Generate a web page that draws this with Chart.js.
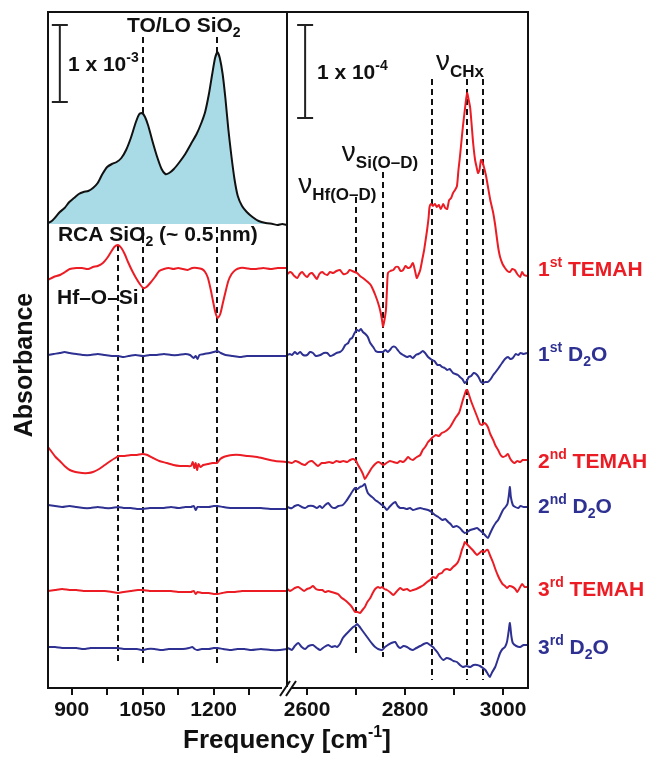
<!DOCTYPE html>
<html>
<head>
<meta charset="utf-8">
<script src="https://cdn.jsdelivr.net/npm/chart.js@4.4.1/dist/chart.umd.min.js"></script>
<style>
  body { margin: 0; background: #fff; }
  #wrap { position: relative; width: 655px; height: 757px; }
  canvas { position: absolute; left: 0; top: 0; }
</style>
</head>
<body>
<div id="wrap">
  <canvas id="leftChart" width="655" height="757"></canvas>
  <canvas id="rightChart" width="655" height="757"></canvas>
</div>
<script>
/* globals Chart:false */
const RED = '#ec1c24';
const BLUE = '#2e3192';
const FONT = '"Liberation Sans", Arial, Helvetica, sans-serif';

// stacked spectra, absorbance in arbitrary units; each trace = [frequency, deviation from its baseline]
const stepOffsets = [418, 333, 226, 181, 98, 40];
const stepColors = [RED, BLUE, RED, BLUE, RED, BLUE];
const refOffset = 464;

// low-frequency region (cm-1)
const refSiO2 = [[850,1],[858,3],[866,7],[875,12],[885,16],[895,22],[905,26],[915,30],[925,32],[935,33],[945,36],[955,41],[965,50],[975,57],[985,60],[995,62],[1005,66],[1015,74],[1025,86],[1035,101],[1043,110],[1049,111],[1055,107],[1062,98],[1070,84],[1080,68],[1090,55],[1098,50],[1106,51],[1116,55],[1128,62],[1140,70],[1152,80],[1164,90],[1174,101],[1182,112],[1190,130],[1197,150],[1203,166],[1208,172],[1213,166],[1219,150],[1225,125],[1231,95],[1237,70],[1244,45],[1251,28],[1260,18],[1270,12],[1282,7],[1295,3],[1310,1],[1325,0],[1335,-1],[1345,0],[1355,-1]];
const low1T = [[850,-10],[862,-7],[875,-5],[886,-2],[896,1],[910,2],[922,2],[935,1],[945,3],[955,4],[966,7],[975,12],[983,18],[990,23],[998,25],[1005,22],[1012,16],[1020,7],[1028,-1],[1036,-8],[1044,-14],[1051,-18],[1058,-17],[1066,-13],[1076,-7],[1085,-1],[1095,1],[1105,2],[1115,1],[1125,2],[1135,1],[1145,0],[1155,2],[1165,2],[1175,1],[1182,-2],[1188,-8],[1194,-20],[1199,-32],[1204,-43],[1209,-48],[1214,-44],[1219,-34],[1225,-22],[1231,-11],[1238,-4],[1246,0],[1256,2],[1266,2],[1278,1],[1290,1],[1305,2],[1320,1],[1335,2],[1355,2]];
const low1D = [[850,0],[862,1],[875,2],[885,3],[896,2],[910,1],[925,0],[940,0],[955,1],[970,0],[985,-1],[998,-1],[1010,-2],[1020,-1],[1035,0],[1050,-1],[1065,0],[1080,0],[1095,1],[1110,0],[1125,0],[1140,1],[1150,0],[1158,-3],[1162,-1],[1166,-4],[1170,0],[1180,1],[1192,2],[1200,3],[1208,4],[1215,2],[1225,0],[1240,-1],[1255,-2],[1270,-1],[1290,-1],[1310,-1],[1330,-1],[1355,-1]];
const low2T = [[850,15],[858,10],[866,5],[875,1],[885,-4],[896,-8],[908,-10],[922,-11],[935,-11],[945,-10],[958,-7],[970,-3],[982,1],[992,4],[1000,6],[1012,6],[1025,7],[1038,7],[1049,8],[1060,7],[1072,4],[1085,1],[1101,-1],[1115,-3],[1129,-4],[1142,-4],[1152,-4],[1156,0],[1159,-6],[1162,-1],[1165,-8],[1168,-2],[1172,-5],[1178,-3],[1188,-2],[1198,-1],[1207,-1],[1214,3],[1221,5],[1228,6],[1240,7],[1256,7],[1272,6],[1292,5],[1310,3],[1330,1],[1355,0]];
const low2D = [[850,2],[865,1],[880,0],[895,1],[910,0],[925,-1],[940,-1],[955,0],[970,-1],[985,-1],[998,0],[1010,-1],[1025,-1],[1038,-2],[1050,-2],[1065,-1],[1080,-1],[1095,-1],[1110,0],[1125,-1],[1140,0],[1152,0],[1158,1],[1162,-3],[1166,0],[1175,0],[1190,0],[1200,1],[1208,1],[1220,0],[1235,-1],[1250,-1],[1265,-1],[1280,-1],[1300,-1],[1320,-2],[1340,-2],[1355,-2]];
const low3T = [[850,-1],[865,0],[880,1],[895,0],[910,0],[925,-1],[940,-1],[955,-1],[970,-1],[985,-2],[998,-3],[1010,-2],[1025,-1],[1040,0],[1050,0],[1065,-1],[1080,-1],[1095,-1],[1110,-1],[1125,-2],[1140,-2],[1152,-2],[1158,-1],[1162,-4],[1166,-2],[1175,-3],[1190,-3],[1200,-4],[1208,-4],[1218,-3],[1230,-2],[1245,-2],[1260,-1],[1280,-1],[1300,-1],[1320,-1],[1340,-1],[1355,-1]];
const low3D = [[850,1],[865,1],[880,0],[895,0],[910,0],[925,-1],[940,0],[955,0],[970,0],[985,0],[998,0],[1010,-1],[1025,-1],[1038,-1],[1050,-2],[1060,-1],[1075,-1],[1090,-2],[1105,-1],[1120,-1],[1135,-1],[1148,0],[1155,1],[1160,-1],[1165,-2],[1175,-1],[1190,-1],[1200,0],[1208,0],[1220,-1],[1235,-2],[1250,-1],[1265,-1],[1280,-2],[1300,-1],[1320,-2],[1340,-2],[1355,-1]];

// high-frequency region (cm-1)
const high1T = [[2560,-4],[2565,-2],[2569,-3],[2574,-6],[2580,-8],[2585,-4],[2590,-2],[2595,-5],[2600,-7],[2605,-4],[2610,-3],[2615,-6],[2620,-9],[2625,-4],[2631,-2],[2636,-4],[2641,-5],[2647,-2],[2653,-3],[2660,-1],[2667,0],[2674,-4],[2682,-3],[2687,0],[2692,-1],[2697,-2],[2702,-3],[2708,-6],[2714,-8],[2719,-10],[2724,-12],[2730,-15],[2735,-20],[2740,-26],[2745,-33],[2749,-40],[2753,-50],[2755,-57],[2758,-50],[2761,-40],[2763,-20],[2765,-3],[2770,-1],[2776,0],[2781,3],[2786,3],[2791,-1],[2796,0],[2801,4],[2806,2],[2811,3],[2816,7],[2820,0],[2824,-8],[2828,-4],[2831,0],[2835,10],[2839,20],[2842,30],[2845,40],[2848,52],[2850,63],[2853,66],[2857,64],[2861,66],[2865,63],[2869,65],[2873,61],[2878,66],[2882,62],[2886,61],[2890,70],[2894,72],[2898,77],[2902,80],[2906,84],[2909,100],[2912,113],[2915,128],[2918,143],[2922,160],[2925,172],[2927,177],[2930,170],[2933,162],[2936,145],[2939,127],[2943,110],[2946,103],[2949,97],[2952,100],[2955,110],[2958,108],[2961,103],[2965,95],[2969,84],[2974,70],[2980,57],[2984,45],[2988,30],[2991,20],[2994,13],[2999,6],[3004,2],[3009,-1],[3014,-2],[3019,1],[3024,0],[3029,-4],[3035,-7],[3039,-2],[3043,-5],[3049,-6]];
const high1D = [[2560,0],[2565,1],[2569,0],[2575,3],[2580,1],[2586,3],[2592,0],[2600,0],[2606,3],[2612,2],[2618,-1],[2627,0],[2634,2],[2641,2],[2647,-1],[2653,0],[2660,2],[2667,3],[2672,5],[2678,10],[2684,12],[2688,16],[2692,17],[2697,22],[2702,25],[2706,24],[2710,26],[2714,23],[2719,21],[2724,18],[2729,12],[2735,8],[2740,4],[2745,3],[2750,3],[2755,3],[2760,5],[2765,3],[2769,5],[2774,8],[2780,8],[2785,5],[2790,2],[2796,0],[2804,-2],[2810,-1],[2816,-3],[2822,0],[2827,1],[2831,2],[2836,4],[2841,2],[2847,-2],[2855,-5],[2860,-6],[2866,-10],[2871,-10],[2876,-12],[2881,-13],[2886,-15],[2891,-14],[2898,-18],[2903,-19],[2908,-20],[2912,-22],[2917,-24],[2922,-28],[2926,-26],[2930,-22],[2935,-21],[2940,-18],[2945,-19],[2950,-22],[2955,-27],[2959,-28],[2964,-27],[2969,-27],[2975,-24],[2980,-20],[2985,-17],[2991,-13],[2998,-8],[3004,-4],[3010,-2],[3015,-4],[3020,-3],[3026,1],[3031,0],[3036,2],[3042,1],[3049,2]];
const high2T = [[2560,0],[2569,-1],[2576,1],[2582,0],[2589,-2],[2596,-3],[2603,0],[2610,1],[2617,-2],[2622,-4],[2630,-1],[2637,-1],[2645,0],[2653,-1],[2660,1],[2667,0],[2674,1],[2682,0],[2688,2],[2694,3],[2700,1],[2704,-3],[2710,-8],[2714,-12],[2718,-17],[2722,-14],[2727,-10],[2732,-6],[2739,-2],[2745,0],[2750,-1],[2755,-3],[2762,-1],[2769,1],[2776,0],[2784,-1],[2790,1],[2796,0],[2801,2],[2806,5],[2811,3],[2816,2],[2824,5],[2831,7],[2836,12],[2841,15],[2847,20],[2851,22],[2857,25],[2863,27],[2869,26],[2875,29],[2880,30],[2886,32],[2892,35],[2898,40],[2904,45],[2910,49],[2914,55],[2918,62],[2922,68],[2925,72],[2927,72],[2930,68],[2934,62],[2937,58],[2941,53],[2945,48],[2949,43],[2953,38],[2957,37],[2961,39],[2965,38],[2969,35],[2974,28],[2980,22],[2985,16],[2990,12],[2995,7],[3000,5],[3005,6],[3010,8],[3015,3],[3020,0],[3024,-1],[3029,1],[3035,0],[3040,2],[3049,2]];
const high2D = [[2560,0],[2565,-1],[2569,-1],[2575,1],[2582,2],[2589,0],[2596,-1],[2603,1],[2612,1],[2620,-1],[2626,1],[2631,-1],[2637,2],[2643,4],[2650,0],[2657,-1],[2664,1],[2673,2],[2680,6],[2688,12],[2693,16],[2698,19],[2703,18],[2708,20],[2713,21],[2718,23],[2721,18],[2724,14],[2730,11],[2735,9],[2739,7],[2745,5],[2750,3],[2753,2],[2758,0],[2763,-3],[2768,0],[2774,3],[2780,5],[2785,1],[2790,-1],[2797,-1],[2804,-2],[2810,-1],[2816,-3],[2823,-2],[2831,-1],[2838,-2],[2847,-3],[2854,-5],[2861,-8],[2868,-10],[2876,-13],[2882,-12],[2888,-15],[2893,-17],[2898,-20],[2905,-19],[2912,-21],[2917,-24],[2922,-26],[2927,-25],[2933,-23],[2940,-22],[2947,-21],[2952,-23],[2957,-25],[2963,-28],[2969,-31],[2974,-26],[2980,-20],[2985,-16],[2990,-13],[2995,-8],[3000,-3],[3005,0],[3009,3],[3012,12],[3014,20],[3016,10],[3020,2],[3025,0],[3031,-1],[3036,1],[3042,0],[3049,0]];
const high3T = [[2560,1],[2565,-1],[2569,0],[2575,2],[2582,3],[2588,1],[2594,-1],[2600,1],[2606,2],[2612,4],[2618,1],[2625,0],[2631,0],[2637,-2],[2643,-1],[2650,-2],[2657,-3],[2663,-4],[2671,-8],[2677,-10],[2684,-13],[2690,-16],[2694,-19],[2698,-22],[2703,-22],[2708,-23],[2713,-20],[2718,-17],[2723,-12],[2729,-8],[2734,-3],[2739,1],[2745,3],[2749,2],[2753,3],[2758,1],[2763,0],[2769,-2],[2776,-5],[2782,-2],[2790,2],[2796,0],[2804,1],[2810,-1],[2816,0],[2823,1],[2831,3],[2838,5],[2845,8],[2851,10],[2857,13],[2863,12],[2869,16],[2875,17],[2880,20],[2886,21],[2892,20],[2898,23],[2903,25],[2908,28],[2912,33],[2916,40],[2920,45],[2922,48],[2926,46],[2930,44],[2934,42],[2938,40],[2943,37],[2947,35],[2952,37],[2957,39],[2962,38],[2966,40],[2969,40],[2974,34],[2980,27],[2985,20],[2990,14],[2994,10],[2999,6],[3004,4],[3008,2],[3013,4],[3020,3],[3025,1],[3029,-2],[3034,2],[3039,6],[3044,3],[3049,3]];
const high3D = [[2560,0],[2565,-1],[2569,-2],[2575,2],[2582,5],[2589,1],[2596,-1],[2603,2],[2612,3],[2620,0],[2627,-2],[2635,1],[2643,3],[2650,1],[2657,2],[2661,1],[2667,4],[2673,10],[2680,14],[2688,18],[2694,21],[2698,22],[2702,24],[2706,22],[2712,18],[2718,14],[2724,10],[2730,6],[2735,3],[2739,1],[2745,-1],[2753,-2],[2759,1],[2765,3],[2772,5],[2780,6],[2785,2],[2790,0],[2797,2],[2804,1],[2810,-1],[2816,-2],[2823,0],[2831,2],[2838,4],[2845,5],[2851,3],[2857,1],[2862,-2],[2867,-5],[2872,-9],[2878,-12],[2885,-10],[2892,-11],[2899,-13],[2906,-14],[2912,-17],[2918,-19],[2925,-18],[2933,-19],[2940,-17],[2947,-17],[2953,-18],[2959,-20],[2964,-22],[2969,-26],[2973,-29],[2978,-24],[2984,-19],[2989,-12],[2994,-5],[2999,-1],[3004,1],[3008,6],[3011,15],[3014,25],[3017,12],[3020,5],[3027,2],[3035,1],[3042,3],[3049,3]];

const lowTicks = [900, 975, 1050, 1125, 1200, 1275];
const lowLabels = [900, 1050, 1200];
const highTicks = [2600, 2700, 2800, 2900, 3000];
const highLabels = [2600, 2800, 3000];

// marker lines: frequency, top and bottom (a.u.)
const lowMarkers = [[998, 443, 25], [1050, 651, 25], [1208, 651, 25]];
const highMarkers = [[2700, 491, 31], [2755, 516, 31], [2855, 609, 8], [2927, 609, 8], [2960, 609, 8]];

const stepLabels = [
  [{t: '1'}, {t: 'st', s: 'sup'}, {t: ' TEMAH'}],
  [{t: '1'}, {t: 'st', s: 'sup'}, {t: ' D'}, {t: '2', s: 'sub'}, {t: 'O'}],
  [{t: '2'}, {t: 'nd', s: 'sup'}, {t: ' TEMAH'}],
  [{t: '2'}, {t: 'nd', s: 'sup'}, {t: ' D'}, {t: '2', s: 'sub'}, {t: 'O'}],
  [{t: '3'}, {t: 'rd', s: 'sup'}, {t: ' TEMAH'}],
  [{t: '3'}, {t: 'rd', s: 'sup'}, {t: ' D'}, {t: '2', s: 'sub'}, {t: 'O'}]
];

function runFont(r, size) {
  const sz = r.z || (r.s ? Math.round(size * 0.66) : size);
  return (r.w || 'bold') + ' ' + sz + 'px ' + FONT;
}

function drawRuns(ctx, x, y, runs, size, color, align) {
  ctx.save();
  ctx.textBaseline = 'middle';
  ctx.textAlign = 'left';
  ctx.fillStyle = color;
  let total = 0;
  runs.forEach(r => { ctx.font = runFont(r, size); total += ctx.measureText(r.t).width; });
  let cx = align === 'center' ? x - total / 2 : x;
  runs.forEach(r => {
    ctx.font = runFont(r, size);
    let dy = r.dy !== undefined ? r.dy : (r.s === 'sub' ? size * 0.35 : r.s === 'sup' ? -size * 0.35 : 0);
    ctx.fillText(r.t, cx, y + dy);
    cx += ctx.measureText(r.t).width;
  });
  ctx.restore();
}

function toPoints(arr, off) {
  return arr.map(p => ({x: p[0], y: off + p[1]}));
}

function traceSet(arr, i) {
  return {data: toPoints(arr, stepOffsets[i]), borderColor: stepColors[i], borderWidth: 2, fill: false};
}

function panelPlugin(cfg) {
  return {
    id: 'panel',
    beforeDatasetsDraw(chart) {
      const {ctx, scales: {x, y}} = chart;
      ctx.save();
      ctx.strokeStyle = '#111';
      ctx.lineWidth = 2;
      ctx.setLineDash([6, 4]);
      cfg.markers.forEach(m => {
        const px = Math.round(x.getPixelForValue(m[0]));
        ctx.beginPath();
        ctx.moveTo(px, y.getPixelForValue(m[1]));
        ctx.lineTo(px, y.getPixelForValue(m[2]));
        ctx.stroke();
      });
      ctx.restore();
    },
    afterDraw(chart) {
      const {ctx, chartArea: a, scales: {x, y}} = chart;
      ctx.save();
      ctx.strokeStyle = '#111';
      ctx.lineWidth = 2;
      ctx.strokeRect(a.left, a.top, a.right - a.left, a.bottom - a.top);
      // scale bar
      const bx = x.getPixelForValue(cfg.bar[0]);
      const b1 = y.getPixelForValue(cfg.bar[1]), b2 = y.getPixelForValue(cfg.bar[2]);
      ctx.strokeStyle = '#222';
      ctx.beginPath();
      ctx.moveTo(bx, b1); ctx.lineTo(bx, b2);
      ctx.moveTo(bx - 8, b1); ctx.lineTo(bx + 8, b1);
      ctx.moveTo(bx - 8, b2); ctx.lineTo(bx + 8, b2);
      ctx.stroke();
      ctx.restore();
      cfg.notes.forEach(n => drawRuns(ctx, x.getPixelForValue(n.f), y.getPixelForValue(n.v), n.runs, 21, '#111', n.align));
      if (cfg.extra) cfg.extra(chart);
    }
  };
}

function xScale(min, max, ticks, labels) {
  return {
    type: 'linear', min: min, max: max,
    afterBuildTicks: s => { s.ticks = ticks.map(v => ({value: v})); },
    afterFit: s => { s.height = 69; },
    grid: {drawOnChartArea: false, tickLength: 7, color: '#111', lineWidth: 2},
    border: {display: false},
    ticks: {
      autoSkip: false, maxRotation: 0, padding: 3, color: '#111',
      font: {family: FONT, size: 21, weight: 'bold'},
      callback: v => labels.includes(v) ? String(v) : ''
    }
  };
}

function baseOptions(padL, padR, xs) {
  return {
    responsive: false, animation: false, devicePixelRatio: 1,
    layout: {padding: {left: padL, right: padR, top: 12, bottom: 0}},
    plugins: {legend: {display: false}, tooltip: {enabled: false}},
    elements: {point: {radius: 0}, line: {tension: 0.2}},
    scales: {x: xs, y: {display: false, min: 0, max: 676}}
  };
}

// left panel: Si-O region
new Chart(document.getElementById('leftChart'), {
  type: 'line',
  data: {
    datasets: [
      {data: toPoints(refSiO2, refOffset), borderColor: '#111', borderWidth: 2, backgroundColor: '#a9dbe6', fill: {value: refOffset}},
      traceSet(low1T, 0), traceSet(low1D, 1), traceSet(low2T, 2),
      traceSet(low2D, 3), traceSet(low3T, 4), traceSet(low3D, 5)
    ]
  },
  options: baseOptions(48, 368, xScale(850, 1355, lowTicks, lowLabels)),
  plugins: [panelPlugin({
    markers: lowMarkers,
    bar: [875, 663, 586],
    notes: [
      {f: 1137, v: 662, align: 'center', runs: [{t: 'TO/LO SiO'}, {t: '2', s: 'sub'}]},
      {f: 892, v: 623, runs: [{t: '1 x 10'}, {t: '-3', s: 'sup'}]},
      {f: 871, v: 453, runs: [{t: 'RCA SiO'}, {t: '2', s: 'sub'}, {t: ' (~ 0.5 nm)'}]},
      {f: 869, v: 390, runs: [{t: 'Hf\u2013O\u2013Si'}]}
    ],
    extra(chart) {
      const ctx = chart.ctx;
      ctx.save();
      ctx.translate(25, 365);
      ctx.rotate(-Math.PI / 2);
      drawRuns(ctx, 0, 0, [{t: 'Absorbance'}], 25, '#111', 'center');
      ctx.restore();
      drawRuns(ctx, 287, 741, [{t: 'Frequency [cm'}, {t: '-1', s: 'sup', z: 16, dy: -8}, {t: ']'}], 26, '#111', 'center');
    }
  })]
});

// right panel: O-D and C-H region
new Chart(document.getElementById('rightChart'), {
  type: 'line',
  data: {
    datasets: [
      traceSet(high1T, 0), traceSet(high1D, 1), traceSet(high2T, 2),
      traceSet(high2D, 3), traceSet(high3T, 4), traceSet(high3D, 5)
    ]
  },
  options: baseOptions(287, 127, xScale(2559, 3051, highTicks, highLabels)),
  plugins: [panelPlugin({
    markers: highMarkers,
    bar: [2596, 663, 570],
    notes: [
      {f: 2620, v: 615, runs: [{t: '1 x 10'}, {t: '-4', s: 'sup'}]},
      {f: 2863, v: 626, runs: [{t: '\u03bd', z: 28, w: 'normal'}, {t: 'CHx', z: 17, dy: 10}]},
      {f: 2671, v: 535, runs: [{t: '\u03bd', z: 28, w: 'normal'}, {t: 'Si(O\u2013D)', z: 17, dy: 10}]},
      {f: 2582, v: 503, runs: [{t: '\u03bd', z: 28, w: 'normal'}, {t: 'Hf(O\u2013D)', z: 17, dy: 10}]}
    ],
    extra(chart) {
      const {ctx, chartArea: a, scales: {y}} = chart;
      stepLabels.forEach((runs, i) => {
        drawRuns(ctx, a.right + 10, y.getPixelForValue(stepOffsets[i]), runs, 21, stepColors[i], 'left');
      });
      // axis break mark
      ctx.save();
      ctx.fillStyle = '#fff';
      ctx.fillRect(a.left - 5, a.bottom - 1, 10, 3);
      ctx.strokeStyle = '#111';
      ctx.lineWidth = 2;
      ctx.beginPath();
      ctx.moveTo(a.left - 7, a.bottom + 8); ctx.lineTo(a.left + 3, a.bottom - 7);
      ctx.moveTo(a.left - 1, a.bottom + 8); ctx.lineTo(a.left + 9, a.bottom - 7);
      ctx.stroke();
      ctx.restore();
    }
  })]
});
</script>
</body>
</html>
